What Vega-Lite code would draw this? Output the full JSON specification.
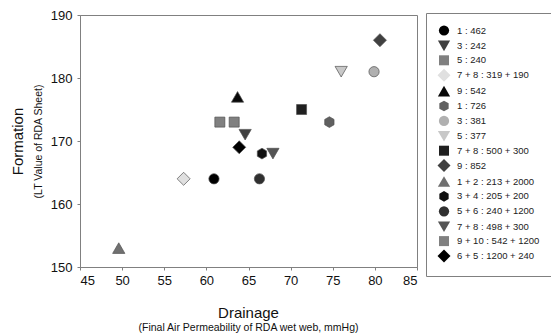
{
  "$schema": "https://vega.github.io/schema/vega-lite/v6.json",
  "width": 337,
  "height": 252,
  "autosize": {"type": "none"},
  "padding": {"left": 80, "top": 15, "right": 134, "bottom": 66},
  "background": "white",
  "config": {
    "view": {"stroke": "#808080", "strokeWidth": 1},
    "font": "Liberation Sans",
    "axis": {"grid": false, "domainColor": "#808080", "tickColor": "#808080", "tickSize": 3, "labelFontSize": 13, "labelColor": "#111", "titleColor": "#111", "titleFont": "Liberation Sans", "titleFontWeight": "normal"}
  },
  "data": {"values": [
    {"label": "1 : 462", "drainage": 60.9, "formation": 164},
    {"label": "3 : 242", "drainage": 64.6, "formation": 171},
    {"label": "5 : 240", "drainage": 61.6, "formation": 173},
    {"label": "7 + 8 : 319 + 190", "drainage": 57.3, "formation": 164},
    {"label": "9 : 542", "drainage": 63.7, "formation": 177},
    {"label": "1 : 726", "drainage": 74.6, "formation": 173},
    {"label": "3 : 381", "drainage": 79.9, "formation": 181},
    {"label": "5 : 377", "drainage": 76.0, "formation": 181},
    {"label": "7 + 8 : 500 + 300", "drainage": 71.3, "formation": 175},
    {"label": "9 : 852", "drainage": 80.6, "formation": 186},
    {"label": "1 + 2 : 213 + 2000", "drainage": 49.6, "formation": 153},
    {"label": "3 + 4 : 205 + 200", "drainage": 66.6, "formation": 168},
    {"label": "5 + 6 : 240 + 1200", "drainage": 66.3, "formation": 164},
    {"label": "7 + 8 : 498 + 300", "drainage": 67.9, "formation": 168},
    {"label": "9 + 10 : 542 + 1200", "drainage": 63.3, "formation": 173},
    {"label": "6 + 5 : 1200 + 240", "drainage": 63.9, "formation": 169}
  ]},
  "layer": [
    {
      "mark": {"type": "point", "filled": true, "opacity": 1, "stroke": "#505050", "strokeWidth": 0.7},
      "encoding": {
        "x": {"field": "drainage", "type": "quantitative", "scale": {"domain": [45, 85], "nice": false, "zero": false}, "axis": {"orient": "bottom", "values": [45, 50, 55, 60, 65, 70, 75, 80, 85], "labelPadding": 4, "title": "Drainage", "titleFontSize": 15, "titleX": 168, "titleY": 45, "titleBaseline": "middle", "titleAlign": "center"}},
        "y": {"field": "formation", "type": "quantitative", "scale": {"domain": [150, 190], "nice": false, "zero": false}, "axis": {"orient": "left", "values": [150, 160, 170, 180, 190], "labelPadding": 5, "title": "Formation", "titleFontSize": 15, "titleX": -63, "titleY": 126, "titleBaseline": "middle", "titleAlign": "center", "titleAngle": -90}},
        "shape": {"field": "label", "type": "nominal", "scale": {
          "domain": ["1 : 462", "3 : 242", "5 : 240", "7 + 8 : 319 + 190", "9 : 542", "1 : 726", "3 : 381", "5 : 377", "7 + 8 : 500 + 300", "9 : 852", "1 + 2 : 213 + 2000", "3 + 4 : 205 + 200", "5 + 6 : 240 + 1200", "7 + 8 : 498 + 300", "9 + 10 : 542 + 1200", "6 + 5 : 1200 + 240"],
          "range": ["circle", "triangle-down", "square", "diamond", "triangle-up", "M0,-1L0.866,-0.5L0.866,0.5L0,1L-0.866,0.5L-0.866,-0.5Z", "circle", "triangle-down", "square", "diamond", "triangle-up", "M0,-1L0.866,-0.5L0.866,0.5L0,1L-0.866,0.5L-0.866,-0.5Z", "circle", "triangle-down", "square", "diamond"]},
          "legend": {"title": null, "orient": "none", "legendX": 346, "legendY": -2, "fillColor": "white", "strokeColor": "#808080", "padding": 12, "labelFont": "Liberation Sans", "labelFontSize": 9.5, "labelColor": "#222", "symbolStrokeColor": "#505050", "symbolStrokeWidth": 0.7, "rowPadding": 0.4, "symbolOffset": -1, "labelOffset": 6, "symbolLimit": 0}},
        "fill": {"field": "label", "type": "nominal", "scale": {
          "domain": ["1 : 462", "3 : 242", "5 : 240", "7 + 8 : 319 + 190", "9 : 542", "1 : 726", "3 : 381", "5 : 377", "7 + 8 : 500 + 300", "9 : 852", "1 + 2 : 213 + 2000", "3 + 4 : 205 + 200", "5 + 6 : 240 + 1200", "7 + 8 : 498 + 300", "9 + 10 : 542 + 1200", "6 + 5 : 1200 + 240"],
          "range": ["#000000", "#404040", "#808080", "#e0e0e0", "#080808", "#606060", "#b0b0b0", "#c8c8c8", "#202020", "#404040", "#707070", "#101010", "#303030", "#555555", "#808080", "#000000"]},
          "legend": {"title": null, "orient": "none", "legendX": 346, "legendY": -2, "fillColor": "white", "strokeColor": "#808080", "padding": 12, "labelFont": "Liberation Sans", "labelFontSize": 9.5, "labelColor": "#222", "symbolStrokeColor": "#505050", "symbolStrokeWidth": 0.7, "rowPadding": 0.4, "symbolOffset": -1, "labelOffset": 6, "symbolLimit": 0}},
        "size": {"field": "label", "type": "nominal", "scale": {"type": "ordinal",
          "domain": ["1 : 462", "3 : 242", "5 : 240", "7 + 8 : 319 + 190", "9 : 542", "1 : 726", "3 : 381", "5 : 377", "7 + 8 : 500 + 300", "9 : 852", "1 + 2 : 213 + 2000", "3 + 4 : 205 + 200", "5 + 6 : 240 + 1200", "7 + 8 : 498 + 300", "9 + 10 : 542 + 1200", "6 + 5 : 1200 + 240"],
          "range": [105, 150, 100, 170, 150, 115, 105, 150, 100, 170, 150, 115, 105, 150, 100, 170]},
          "legend": {"title": null, "orient": "none", "legendX": 346, "legendY": -2, "fillColor": "white", "strokeColor": "#808080", "padding": 12, "labelFont": "Liberation Sans", "labelFontSize": 9.5, "labelColor": "#222", "symbolStrokeColor": "#505050", "symbolStrokeWidth": 0.7, "rowPadding": 0.4, "symbolOffset": -1, "labelOffset": 6, "symbolLimit": 0}}
      }
    },
    {
      "mark": {"type": "point", "opacity": 0, "size": 1},
      "encoding": {
        "x": {"field": "drainage", "type": "quantitative", "scale": {"domain": [45, 85], "nice": false, "zero": false}, "axis": {"orient": "bottom", "labels": false, "ticks": false, "domain": false, "title": "(Final Air Permeability of RDA wet web, mmHg)", "titleFontSize": 10.5, "titleX": 168, "titleY": 60, "titleBaseline": "middle", "titleAlign": "center"}},
        "y": {"field": "formation", "type": "quantitative", "scale": {"domain": [150, 190], "nice": false, "zero": false}, "axis": {"orient": "left", "labels": false, "ticks": false, "domain": false, "title": "(LT Value of RDA Sheet)", "titleFontSize": 10.5, "titleX": -42, "titleY": 126, "titleBaseline": "middle", "titleAlign": "center", "titleAngle": -90}}
      }
    }
  ],
  "resolve": {"axis": {"x": "independent", "y": "independent"}}
}
